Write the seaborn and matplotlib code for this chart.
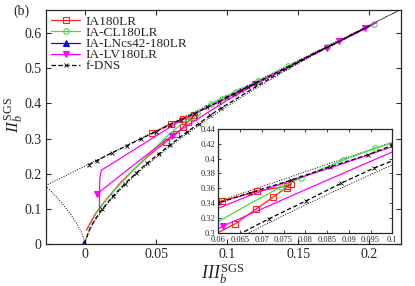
import numpy as np
import pandas as pd
import matplotlib
matplotlib.use("Agg")
import matplotlib.pyplot as plt
import seaborn as sns

# ---------------- data ----------------
ia_x = [0.047, 0.0609, 0.069, 0.0759, 0.0768, 0.0757, 0.0726, 0.0687, 0.0639,
        0.057, 0.045, 0.035, 0.025, 0.015, 0.008, 0.004, 0.001]
ia_y = [0.315, 0.343, 0.356, 0.363, 0.366, 0.361, 0.348, 0.332, 0.312,
        0.291, 0.252, 0.215, 0.175, 0.127, 0.090, 0.062, 0.040]
ia_marks = [0, 1, 2, 3, 4, 5, 6, 7, 8, 9]

cl_x = [0.006, 0.012, 0.018, 0.025, 0.035, 0.045, 0.053, 0.060, 0.0675, 0.0745,
        0.079, 0.0887, 0.0961, 0.106, 0.122, 0.143, 0.170, 0.2035]
cl_y = [0.080, 0.113, 0.140, 0.172, 0.215, 0.255, 0.288, 0.315, 0.340, 0.362,
        0.374, 0.398, 0.414, 0.432, 0.464, 0.506, 0.560, 0.627]
cl_marks = [9, 10, 11, 12, 13, 14, 15, 16, 17]

ln_x = [-0.0005, -0.0003]
ln_y = [0.005, 0.004]
ln_marks = [0]

lv_x = [0.0102, 0.0102, 0.0105, 0.0116, 0.015, 0.030, 0.045, 0.060, 0.0675, 0.0749,
        0.085, 0.100, 0.120, 0.140, 0.160, 0.180, 0.200, 0.205, 0.197, 0.179,
        0.170, 0.150, 0.120, 0.100, 0.080, 0.0611, 0.040, 0.025, 0.0085]
lv_y = [0.092, 0.150, 0.190, 0.211, 0.219, 0.257, 0.295, 0.333, 0.351, 0.367,
        0.386, 0.416, 0.456, 0.497, 0.538, 0.578, 0.618, 0.630, 0.614, 0.577,
        0.559, 0.517, 0.455, 0.409, 0.358, 0.309, 0.243, 0.196, 0.143]
lv_marks = [18, 19, 20, 22, 25, 28]

dns_x = [0.0028, 0.0085, 0.019, 0.0296, 0.0394, 0.050, 0.060, 0.0674, 0.0768, 0.0857,
         0.0943, 0.100, 0.105, 0.110, 0.115, 0.120, 0.140, 0.160, 0.180, 0.200,
         0.180, 0.160, 0.140, 0.120, 0.100, 0.0957, 0.0883, 0.0802, 0.0717, 0.0655,
         0.064, 0.060, 0.056, 0.052, 0.048, 0.044, 0.040, 0.036, 0.032, 0.028,
         0.024, 0.020, 0.016, 0.012, 0.008, 0.004, 0.001, 0.000]
dns_y = [0.226, 0.238, 0.260, 0.280, 0.300, 0.320, 0.340, 0.354, 0.371, 0.389,
         0.405, 0.418, 0.428, 0.438, 0.448, 0.458, 0.498, 0.540, 0.579, 0.620,
         0.578, 0.538, 0.494, 0.447, 0.397, 0.387, 0.367, 0.343, 0.319, 0.300,
         0.295, 0.283, 0.270, 0.257, 0.244, 0.231, 0.217, 0.202, 0.187, 0.172,
         0.155, 0.138, 0.119, 0.099, 0.076, 0.050, 0.018, 0.004]
dns_marks = list(range(0, 16)) + [25, 26, 27, 28] + [31, 33, 35, 37, 39, 41, 43]

series_names = ["IA180LR", "IA-CL180LR", "IA-LNcs42-180LR", "IA-LV180LR", "f-DNS"]

# ---------------- style ----------------
sns.set_theme(style="ticks")
plt.rcParams["font.family"] = ["Liberation Serif", "DejaVu Serif"]
plt.rcParams["mathtext.fontset"] = "custom"
plt.rcParams["mathtext.rm"] = "Liberation Serif"
plt.rcParams["mathtext.it"] = "Liberation Serif:italic"
plt.rcParams["axes.linewidth"] = 0.9
plt.rcParams["xtick.direction"] = "in"
plt.rcParams["ytick.direction"] = "in"

RED, GREEN, BLUE, MAG = "#ff2020", "#40e040", "#1010d0", "#ff00ff"
styles = {
    "IA180LR": dict(color=RED, marker="s", mfc="none", mec=RED, ms=4.0, mew=0.8, ls="-"),
    "IA-CL180LR": dict(color=GREEN, marker="o", mfc="none", mec=GREEN, ms=4.0, mew=0.8, ls="-"),
    "IA-LNcs42-180LR": dict(color=BLUE, marker="^", mfc=BLUE, mec=BLUE, ms=4.5, mew=0.8, ls="-"),
    "IA-LV180LR": dict(color=MAG, marker="v", mfc=MAG, mec=MAG, ms=4.5, mew=0.8, ls="-"),
    "f-DNS": dict(color="black", marker="x", mfc="none", mec="black", ms=3.2, mew=0.6,
                  ls=(0, (3.5, 2))),
}
data = {
    "IA180LR": (ia_x, ia_y, ia_marks),
    "IA-CL180LR": (cl_x, cl_y, cl_marks),
    "IA-LNcs42-180LR": (ln_x, ln_y, ln_marks),
    "IA-LV180LR": (lv_x, lv_y, lv_marks),
    "f-DNS": (dns_x, dns_y, dns_marks),
}

# Lumley-triangle boundaries (analytic limiting states)
t_neg = np.linspace(-1 / 36, 0, 200)
t_pos = np.linspace(0, 2 / 9, 400)
axc_y = 6 * (np.abs(t_neg) / 6) ** (2 / 3)
axe_y = 6 * (t_pos / 6) ** (2 / 3)
tc_x = np.array([-1 / 36, 2 / 9])
tc_y = 2 / 9 + 2 * tc_x

W, H = 415, 286
fig = plt.figure(figsize=(W / 100, H / 100), dpi=100)
ax = fig.add_axes([45.5 / W, 1 - 244.3 / H, (400.7 - 45.5) / W, (244.3 - 9.6) / H])
axins = fig.add_axes([218.3 / W, 1 - 232.7 / H, (392.3 - 218.3) / W, (232.7 - 129.0) / H])


def draw(a, with_label):
    for arr_x, arr_y in ((t_neg, axc_y), (t_pos, axe_y), (tc_x, tc_y)):
        sns.lineplot(x=arr_x, y=arr_y, ax=a, sort=False, estimator=None,
                     color="black", lw=0.7, linestyle=(0, (1, 1.6)))
    for name in series_names:
        xs, ys, mk = data[name]
        st = dict(styles[name])
        ls = st.pop("ls")
        df = pd.DataFrame({"x": xs, "y": ys})
        sns.lineplot(data=df, x="x", y="y", ax=a, sort=False, estimator=None,
                     linestyle=ls, lw=0.9, markevery=mk,
                     label=name if with_label else None, **st)


draw(ax, True)
draw(axins, False)

# main axes
ax.set_xlim(-1 / 36, 2 / 9)
ax.set_ylim(0, 2 / 3)
ax.set_xticks([0, 0.05, 0.1, 0.15, 0.2])
ax.set_xticklabels(["0", "0.05", "0.1", "0.15", "0.2"])
ax.set_yticks([0, 0.1, 0.2, 0.3, 0.4, 0.5, 0.6])
ax.set_yticklabels(["0", "0.1", "0.2", "0.3", "0.4", "0.5", "0.6"])
ax.tick_params(axis="both", which="major", labelsize=10, length=3.5, width=0.8,
               top=True, right=True, pad=3)
ax.set_xlabel(r"$III_b^{\mathrm{SGS}}$", fontsize=13, labelpad=0)
ax.set_ylabel(r"$II_b^{\mathrm{SGS}}$", fontsize=12.5, labelpad=0)
ax.yaxis.set_label_coords(-0.058, 0.55)
leg = ax.legend(loc="upper left", frameon=False, fontsize=9.5, handlelength=2.2,
                handletextpad=0.35, labelspacing=-0.08, borderaxespad=0.25,
                borderpad=0.2)

# inset
axins.set_xlim(0.06, 0.1)
axins.set_ylim(0.3, 0.44)
axins.set_xticks([0.06, 0.065, 0.07, 0.075, 0.08, 0.085, 0.09, 0.095, 0.1])
axins.set_xticklabels(["0.06", "0.065", "0.07", "0.075", "0.08", "0.085", "0.09", "0.095", "0.1"])
axins.set_yticks([0.3, 0.32, 0.34, 0.36, 0.38, 0.4, 0.42, 0.44])
axins.set_yticklabels(["0.3", "0.32", "0.34", "0.36", "0.38", "0.4", "0.42", "0.44"])
axins.tick_params(axis="x", which="major", labelsize=6.0, length=2.5, width=0.6,
                  top=True, pad=2.6)
axins.tick_params(axis="y", which="major", labelsize=6.0, length=2.5, width=0.6,
                  right=True, pad=2.0)
axins.set_xlabel("")
axins.set_ylabel("")
axins.set_facecolor("white")

fig.text(13 / W, 1 - 11 / H, "(b)", fontsize=10, ha="left", va="center")

fig.savefig("out.png", dpi=100)
